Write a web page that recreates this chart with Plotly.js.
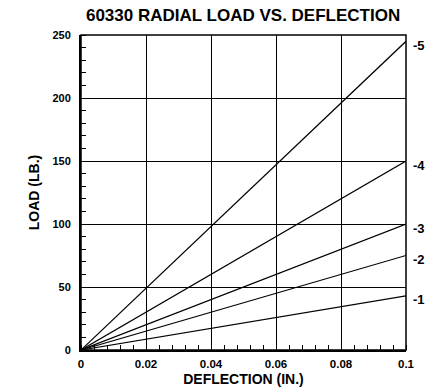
<!DOCTYPE html>
<html>
<head>
<meta charset="utf-8">
<script src="https://cdn.plot.ly/plotly-3.0.1.min.js"></script>
<style>html,body{margin:0;padding:0;background:#fff;}#chart{width:431px;height:389px;}</style>
</head>
<body>
<div id="chart"></div>
<script>
const seriesNames = ['-5', '-4', '-3', '-2', '-1'];
const deflection = [0, 0.1];
const load5 = [0, 245];
const load4 = [0, 150];
const load3 = [0, 100];
const load2 = [0, 75];
const load1 = [0, 43];
const xTicks = [0, 0.02, 0.04, 0.06, 0.08, 0.1];
const xTickText = ['0', '0.02', '0.04', '0.06', '0.08', '0.1'];
const yTicks = [0, 50, 100, 150, 200, 250];

const allLoads = [load5, load4, load3, load2, load1];
const FONT = 'Arial, "Liberation Sans", sans-serif';

const traces = allLoads.map((ys, i) => ({
  x: deflection, y: ys, type: 'scatter', mode: 'lines',
  name: seriesNames[i], line: {color: '#000', width: 1.2}, hoverinfo: 'skip'
}));

const annotations = allLoads.map((ys, i) => ({
  x: deflection[deflection.length - 1], y: ys[ys.length - 1],
  xref: 'x', yref: 'y', text: '<b>' + seriesNames[i] + '</b>',
  showarrow: false, xanchor: 'left', yanchor: 'middle', xshift: 5, yshift: -4,
  font: {family: FONT, size: 13, color: '#000'}
}));

const layout = {
  width: 431, height: 389,
  margin: {l: 81, r: 25, t: 35, b: 39},
  paper_bgcolor: '#fff', plot_bgcolor: '#fff',
  showlegend: false,
  title: {text: '<b>60330 RADIAL LOAD VS. DEFLECTION</b>', x: 0.564, xanchor: 'center', y: 0.962, yanchor: 'middle',
          font: {family: FONT, size: 17, color: '#000'}},
  xaxis: {
    range: [0, 0.1], tickvals: xTicks, ticktext: xTickText,
    showgrid: true, gridcolor: '#000', gridwidth: 1,
    showline: true, linecolor: '#000', linewidth: 2, mirror: false,
    ticks: '', zeroline: false, ticklabelstandoff: 2,
    minor: {dtick: 0.004, tick0: 0, ticks: 'inside', ticklen: 5, tickcolor: '#000', tickwidth: 1, showgrid: false},
    tickfont: {family: FONT, size: 11.5, color: '#000', weight: 'bold'},
    title: {text: '<b>DEFLECTION (IN.)</b>', standoff: 5, font: {family: FONT, size: 14, color: '#000'}}
  },
  yaxis: {
    range: [0, 250], tickvals: yTicks,
    showgrid: true, gridcolor: '#000', gridwidth: 1,
    showline: true, linecolor: '#000', linewidth: 2, mirror: false,
    ticks: '', zeroline: false, ticklabelstandoff: 6,
    minor: {dtick: 10, tick0: 0, ticks: 'inside', ticklen: 5, tickcolor: '#000', tickwidth: 1, showgrid: false},
    tickfont: {family: FONT, size: 11, color: '#000', weight: 'bold'},
    title: {text: '<b>LOAD (LB.)</b>', standoff: 10, font: {family: FONT, size: 14, color: '#000'}}
  },
  shapes: [{type: 'rect', xref: 'paper', yref: 'paper', x0: 0, x1: 1, y0: 0, y1: 1,
            line: {color: '#000', width: 1.5}, fillcolor: 'rgba(0,0,0,0)', layer: 'above'}],
  annotations: annotations
};

Plotly.newPlot('chart', traces, layout, {staticPlot: true, displayModeBar: false});
</script>
</body>
</html>
